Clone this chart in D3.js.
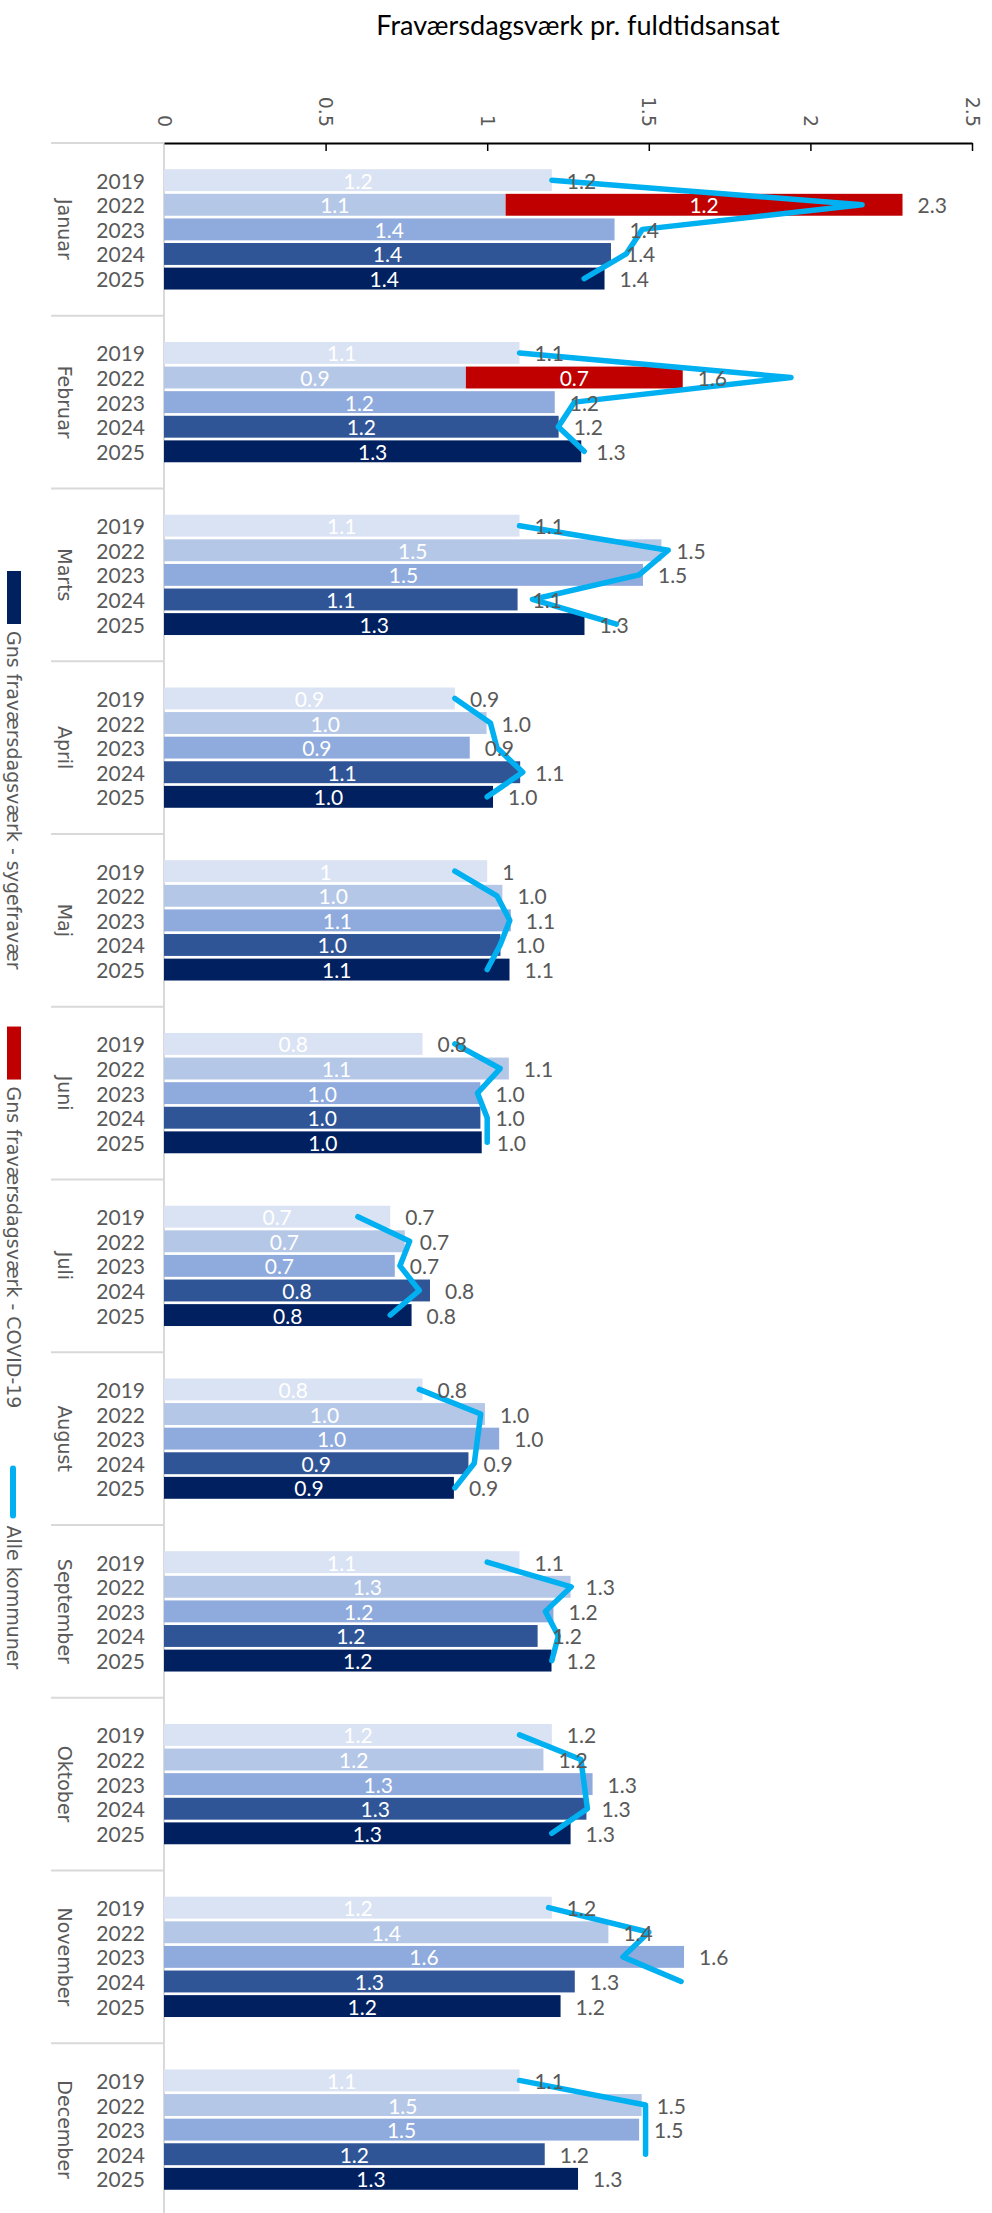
<!DOCTYPE html>
<html>
<head>
<meta charset="utf-8">
<script src="https://cdn.jsdelivr.net/npm/d3@7"></script>
<style>
  body { margin: 0; background: #fff; }
  svg { display: block; }
</style>
</head>
<body>
<svg id="chart" width="992" height="2213"></svg>
<script>
// Months (outer category) and years (inner category)
const months = ["Januar", "Februar", "Marts", "April", "Maj", "Juni", "Juli",
                "August", "September", "Oktober", "November", "December"];
const years = ["2019", "2022", "2023", "2024", "2025"];
const axisTicks = [0, 0.5, 1, 1.5, 2, 2.5];

// Gns fraværsdagsværk - sygefravær, per year, Januar..December
const sick2019 = [1.2, 1.1, 1.1, 0.9, 1, 0.8, 0.7, 0.8, 1.1, 1.2, 1.2, 1.1];
const sick2022 = [1.057, 0.934, 1.539, 0.998, 1.047, 1.067, 0.745, 0.993, 1.258, 1.174, 1.375, 1.478];
const sick2023 = [1.394, 1.209, 1.482, 0.946, 1.073, 0.979, 0.714, 1.037, 1.205, 1.326, 1.609, 1.470];
const sick2024 = [1.383, 1.221, 1.094, 1.102, 1.041, 0.979, 0.823, 0.942, 1.156, 1.307, 1.271, 1.178];
const sick2025 = [1.363, 1.291, 1.301, 1.018, 1.069, 0.983, 0.766, 0.897, 1.199, 1.258, 1.227, 1.281];

// Gns fraværsdagsværk - COVID-19 (only 2022)
const covid2022 = [1.228, 0.671, 0, 0, 0, 0, 0, 0, 0, 0, 0, 0];

// Alle kommuner, per year, Januar..December
const alle2019 = [1.20, 1.10, 1.10, 0.90, 0.90, 0.90, 0.60, 0.79, 1.00, 1.10, 1.19, 1.10];
const alle2022 = [2.16, 1.94, 1.56, 1.01, 1.03, 1.04, 0.76, 0.98, 1.26, 1.29, 1.50, 1.49];
const alle2023 = [1.48, 1.27, 1.47, 1.03, 1.07, 0.97, 0.73, 0.97, 1.18, 1.30, 1.42, 1.49];
const alle2024 = [1.43, 1.22, 1.14, 1.11, 1.04, 1.00, 0.79, 0.96, 1.22, 1.31, 1.60, 1.49];
const alle2025 = [1.30, 1.30, 1.40, 1.00, 1.00, 1.00, 0.70, 0.90, 1.20, 1.20, null, null];

const sickByYear = { "2019": sick2019, "2022": sick2022, "2023": sick2023, "2024": sick2024, "2025": sick2025 };
const covidByYear = { "2022": covid2022 };
const alleByYear = { "2019": alle2019, "2022": alle2022, "2023": alle2023, "2024": alle2024, "2025": alle2025 };

const yearColor = { "2019": "#DAE3F3", "2022": "#B4C7E7", "2023": "#8FAADC", "2024": "#2F5597", "2025": "#002060" };
const covidColor = "#C00000";
const lineColor = "#00B0F0";
const gray = "#595959";
const numFont = "Lato, 'Liberation Sans', Arial, sans-serif";
const textFont = "'DejaVu Sans', 'Noto Sans', sans-serif";

const rows = [];
months.forEach((m, i) => {
  years.forEach(y => {
    const sick = sickByYear[y][i];
    const covid = covidByYear[y] ? covidByYear[y][i] : 0;
    rows.push({ month: m, year: y, sick, covid, total: sick + covid, alle: alleByYear[y][i] });
  });
});

const fmtGeneral = d3.format("~g");
const fmtFixed = d3.format(".1f");
const fmt = (year, v) => year === "2019" ? fmtGeneral(v) : fmtFixed(v);

const svg = d3.select("#chart");
const axisY = 143;

const x = d3.scaleLinear().domain([0, 2.5]).range([164, 972]);
const yMonth = d3.scaleBand().domain(months).range([axisY, 2216]);
const yYear = d3.scaleBand().domain(years).range([0, yMonth.bandwidth()])
  .paddingInner(0.11).paddingOuter(1.066);
const barY = d => yMonth(d.month) + yYear(d.year);
const barMid = d => barY(d) + yYear.bandwidth() / 2;

// Title
svg.append("text")
  .attr("x", 578).attr("y", 35)
  .attr("text-anchor", "middle")
  .attr("font-family", numFont).attr("font-size", 27)
  .attr("fill", "#000")
  .text("Fraværsdagsværk pr. fuldtidsansat");

// Category axis: vertical line and month separators
svg.append("line")
  .attr("x1", x(0)).attr("x2", x(0))
  .attr("y1", axisY).attr("y2", 2213)
  .attr("stroke", "#D9D9D9").attr("stroke-width", 2);

svg.append("g").selectAll("line")
  .data(months.map(m => yMonth(m)).concat([yMonth.range()[1]]))
  .join("line")
  .attr("x1", 51).attr("x2", x(0))
  .attr("y1", d => d).attr("y2", d => d)
  .attr("stroke", "#D9D9D9").attr("stroke-width", 2);

// Month labels
svg.append("g").selectAll("text")
  .data(months)
  .join("text")
  .attr("transform", m => `translate(65,${yMonth(m) + yMonth.bandwidth() / 2}) rotate(90)`)
  .attr("text-anchor", "middle")
  .attr("dominant-baseline", "central")
  .attr("font-family", textFont).attr("font-size", 19)
  .attr("fill", gray)
  .text(m => m);

// Year labels
svg.append("g").selectAll("text")
  .data(rows)
  .join("text")
  .attr("x", 145).attr("y", barMid)
  .attr("text-anchor", "end")
  .attr("dominant-baseline", "central")
  .attr("font-family", numFont).attr("font-size", 21)
  .attr("fill", gray)
  .text(d => d.year);

// Bars: sygefravær
svg.append("g").selectAll("rect")
  .data(rows)
  .join("rect")
  .attr("x", x(0))
  .attr("y", barY)
  .attr("width", d => x(d.sick) - x(0))
  .attr("height", yYear.bandwidth())
  .attr("fill", d => yearColor[d.year]);

// Bars: COVID-19 stacked after sygefravær
svg.append("g").selectAll("rect")
  .data(rows.filter(d => d.covid > 0))
  .join("rect")
  .attr("x", d => x(d.sick))
  .attr("y", barY)
  .attr("width", d => x(d.total) - x(d.sick))
  .attr("height", yYear.bandwidth())
  .attr("fill", covidColor);

// Alle kommuner: one polyline per month
const line = d3.line()
  .defined(d => d.alle != null)
  .x(d => x(d.alle))
  .y(barMid);

svg.append("g").selectAll("path")
  .data(months.map(m => rows.filter(r => r.month === m)))
  .join("path")
  .attr("d", line)
  .attr("fill", "none")
  .attr("stroke", lineColor)
  .attr("stroke-width", 5.5)
  .attr("stroke-linejoin", "round")
  .attr("stroke-linecap", "round");

// Value labels inside the bars
const inside = svg.append("g")
  .attr("font-family", numFont).attr("font-size", 21)
  .attr("fill", "#fff")
  .attr("text-anchor", "middle")
  .attr("dominant-baseline", "central");

inside.selectAll("text.sick")
  .data(rows)
  .join("text")
  .attr("class", "sick")
  .attr("x", d => (x(0) + x(d.sick)) / 2)
  .attr("y", barMid)
  .text(d => fmt(d.year, d.sick));

inside.selectAll("text.covid")
  .data(rows.filter(d => d.covid > 0))
  .join("text")
  .attr("class", "covid")
  .attr("x", d => (x(d.sick) + x(d.total)) / 2)
  .attr("y", barMid)
  .text(d => fmt(d.year, d.covid));

// Total labels after each bar
svg.append("g").selectAll("text")
  .data(rows)
  .join("text")
  .attr("x", d => x(d.total) + 15)
  .attr("y", barMid)
  .attr("dominant-baseline", "central")
  .attr("font-family", numFont).attr("font-size", 21)
  .attr("fill", gray)
  .text(d => fmt(d.year, d.total));

// Value axis at the top
const gx = svg.append("g")
  .attr("transform", `translate(0,${axisY})`)
  .call(d3.axisTop(x).tickValues(axisTicks).tickFormat(fmtGeneral)
    .tickSizeInner(-8).tickSizeOuter(0));
gx.select(".domain").attr("stroke", "#000").attr("stroke-width", 2);
gx.selectAll(".tick line")
  .attr("stroke", "#000").attr("stroke-width", 1.5)
  .attr("opacity", d => d === 0 ? 0 : 1);
gx.selectAll(".tick text")
  .attr("y", null).attr("dy", null)
  .attr("transform", "translate(0,-16) rotate(90)")
  .attr("text-anchor", "end")
  .attr("dominant-baseline", "central")
  .attr("font-family", textFont).attr("font-size", 19)
  .attr("fill", gray);

// Legend, running downward along the left edge
const legendItems = [
  { label: "Gns fraværsdagsværk - sygefravær", type: "rect", color: "#002060" },
  { label: "Gns fraværsdagsværk - COVID-19", type: "rect", color: covidColor },
  { label: "Alle kommuner", type: "line", color: lineColor }
];
const legend = svg.append("g");
let ly = 571;
legendItems.forEach(item => {
  if (item.type === "rect") {
    legend.append("rect")
      .attr("x", 7).attr("y", ly).attr("width", 14).attr("height", 53)
      .attr("fill", item.color);
  } else {
    legend.append("line")
      .attr("x1", 13).attr("x2", 13).attr("y1", ly + 3).attr("y2", ly + 50)
      .attr("stroke", item.color).attr("stroke-width", 6)
      .attr("stroke-linecap", "round");
  }
  ly += 53 + 7;
  const t = legend.append("text")
    .attr("transform", `translate(14,${ly}) rotate(90)`)
    .attr("dominant-baseline", "central")
    .attr("font-family", textFont).attr("font-size", 19)
    .attr("fill", gray)
    .text(item.label);
  ly += t.node().getComputedTextLength() + 57;
});
</script>
</body>
</html>
